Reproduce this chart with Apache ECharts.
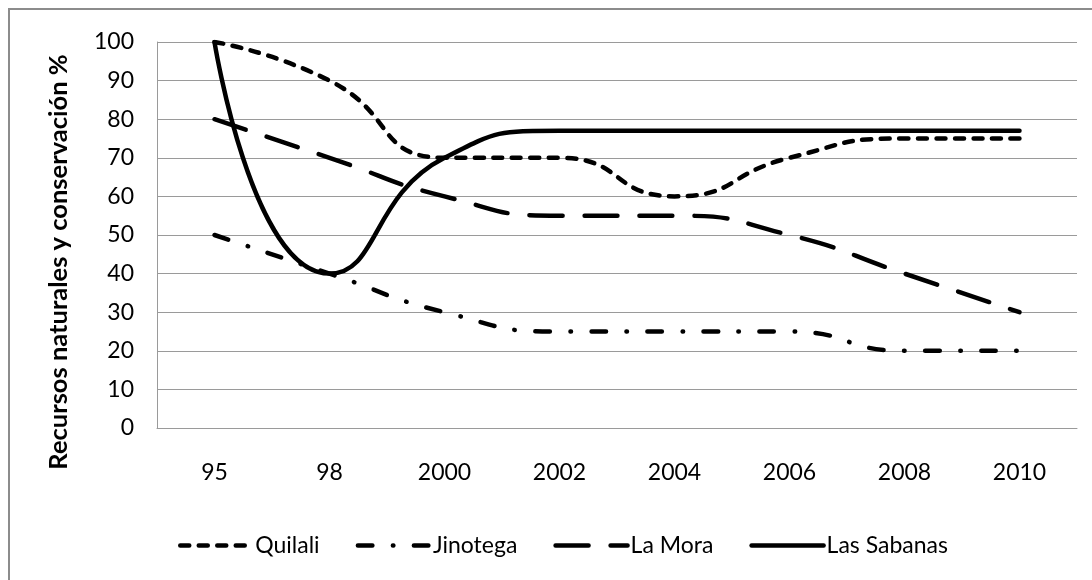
<!DOCTYPE html>
<html>
<head>
<meta charset="utf-8">
<script src="https://cdn.jsdelivr.net/npm/echarts@6/dist/echarts.min.js"></script>
<style>
html,body{margin:0;padding:0;background:#fff;}
#chart{width:1092px;height:580px;}
</style>
</head>
<body>
<div id="chart"></div>
<script>
const categories = ['95', '98', '2000', '2002', '2004', '2006', '2008', '2010'];
const seriesNames = ['Quilali', 'Jinotega', 'La Mora', 'Las Sabanas'];
const quilali = [100, 90, 70, 70, 60, 70, 75, 75];
const jinotega = [50, 40, 30, 25, 25, 25, 20, 20];
const laMora = [80, 70, 60, 55, 55, 50, 40, 30];
const lasSabanas = [100, 40, 70, 77, 77, 77, 77, 77];
const yTitle = 'Recursos naturales y conservación %';

const FONT = 'Lato';
const chart = echarts.init(document.getElementById('chart'));

function lineSeries(name, data, dash) {
  return {
    name: name,
    type: 'line',
    data: data,
    smooth: 0.55,
    symbol: 'none',
    lineStyle: {
      color: '#000',
      width: 4.5,
      type: dash,
      cap: 'round',
      join: 'round'
    },
    itemStyle: { color: '#000' },
    emphasis: { disabled: true }
  };
}

chart.setOption({
  animation: false,
  backgroundColor: '#fff',
  textStyle: { fontFamily: FONT },
  grid: { left: 157, right: 15, top: 42, bottom: 152, containLabel: false },
  graphic: [
    {
      type: 'rect',
      shape: { x: 9, y: 9, width: 1200, height: 700 },
      style: { fill: 'none', stroke: '#8c8c8c', lineWidth: 2 },
      silent: true,
      z: 0
    },
    {
      type: 'text',
      x: 59,
      y: 262,
      rotation: Math.PI / 2,
      style: {
        text: yTitle,
        fontFamily: FONT,
        fontWeight: 'bold',
        fontSize: 25.5,
        fill: '#000',
        align: 'center',
        verticalAlign: 'middle'
      },
      silent: true
    }
  ],
  legend: {
    left: 173,
    top: 529,
    itemWidth: 72,
    itemHeight: 14,
    itemGap: 36,
    data: seriesNames,
    itemStyle: { opacity: 0 },
    lineStyle: { width: 4.5, cap: 'round' },
    textStyle: { fontFamily: FONT, fontSize: 23, color: '#000', padding: [0, 0, 0, -2] }
  },
  xAxis: {
    type: 'category',
    data: categories,
    boundaryGap: true,
    axisLine: { show: true, lineStyle: { color: '#9a9a9a', width: 1 } },
    axisTick: { show: false },
    axisLabel: { fontFamily: FONT, fontSize: 23, color: '#000', margin: 33 },
    splitLine: { show: false }
  },
  yAxis: {
    type: 'value',
    min: 0,
    max: 100,
    interval: 10,
    axisLine: { show: true, lineStyle: { color: '#9a9a9a', width: 1 } },
    axisTick: { show: false },
    axisLabel: { fontFamily: FONT, fontSize: 23, color: '#000', margin: 23 },
    splitLine: { show: true, lineStyle: { color: '#9a9a9a', width: 1 } }
  },
  series: [
    lineSeries(seriesNames[0], quilali, [9, 9.5]),
    lineSeries(seriesNames[1], jinotega, [14.5, 20.5, 0.5, 20.5]),
    lineSeries(seriesNames[2], laMora, [33, 22]),
    lineSeries(seriesNames[3], lasSabanas, 'solid')
  ]
});
</script>
</body>
</html>
